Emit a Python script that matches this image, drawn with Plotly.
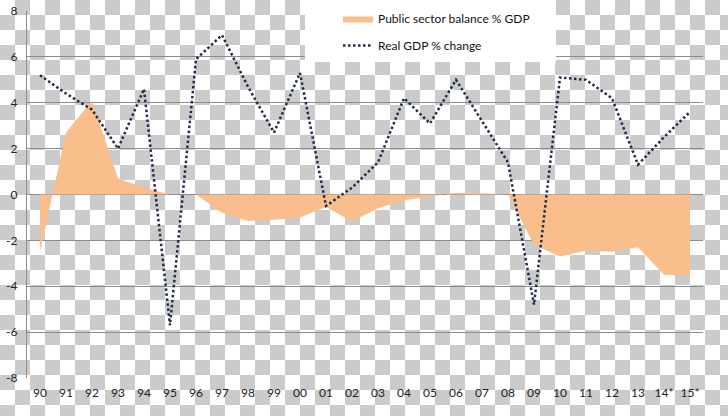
import base64
import plotly.graph_objects as go

years = ["90", "91", "92", "93", "94", "95", "96", "97", "98", "99", "00", "01", "02",
         "03", "04", "05", "06", "07", "08", "09", "10", "11", "12", "13", "14*", "15*"]
balance = [-2.5, 2.7, 4.1, 0.7, 0.3, 0.0, 0.0, -0.8, -1.15, -1.1, -1.0, -0.55, -1.18,
           -0.6, -0.25, -0.1, 0.08, 0.05, 0.0, -2.2, -2.7, -2.45, -2.5, -2.3, -3.5, -3.55]
gdp = [5.2, 4.4, 3.7, 2.0, 4.6, -5.7, 5.9, 6.95, 4.7, 2.7, 5.3, -0.5, 0.3,
       1.4, 4.2, 3.1, 5.0, 3.2, 1.4, -4.8, 5.1, 5.0, 4.2, 1.3, 2.5, 3.6]
yticks = [-8, -6, -4, -2, 0, 2, 4, 6, 8]

W, H = 728, 416
L, R, T, B = 27, 25, 11, 38
pw, ph = W - L - R, H - T - B

# checkerboard backdrop (transparent png look)
svg = ('<svg xmlns="http://www.w3.org/2000/svg" width="728" height="416">'
       '<defs><pattern id="p" width="30" height="30" patternUnits="userSpaceOnUse">'
       '<rect width="30" height="30" fill="#ffffff"/>'
       '<rect x="15" width="15" height="15" fill="#cbcbcb"/>'
       '<rect y="15" width="15" height="15" fill="#cbcbcb"/></pattern></defs>'
       '<rect width="728" height="416" fill="url(#p)"/></svg>')
src = "data:image/svg+xml;base64," + base64.b64encode(svg.encode()).decode()

fig = go.Figure()
fig.add_trace(go.Scatter(
    x=years, y=balance, mode="lines", fill="tozeroy",
    fillcolor="#F9BE8C", line=dict(width=0, color="#F9BE8C"),
    name="Public sector balance % GDP", legendgroup="a",
))
fig.add_trace(go.Scatter(
    x=years, y=gdp, mode="lines",
    line=dict(color="#1F2D4A", width=2.5, dash="2.5px,2.5px"),
    name="Real GDP % change", legendgroup="b",
))

fig.update_layout(
    width=W, height=H,
    margin=dict(l=L, r=R, t=T, b=B, autoexpand=False),
    paper_bgcolor="white",
    plot_bgcolor="rgba(0,0,0,0)",
    font=dict(family="Lato, Open Sans, sans-serif", size=12, color="#222222"),
    images=[dict(source=src, xref="paper", yref="paper",
                 x=-L / pw, y=1 + T / ph, sizex=W / pw, sizey=H / ph,
                 xanchor="left", yanchor="top", sizing="stretch", layer="below")],
    shapes=[dict(type="rect", xref="paper", yref="paper",
                 x0=(305 - L) / pw, x1=(556 - L) / pw,
                 y0=(H - B - 62) / ph, y1=1 + T / ph,
                 fillcolor="white", line=dict(width=0), layer="above")],
    legend=dict(x=(338 - L) / pw, y=(H - B - 4) / ph, xanchor="left", yanchor="top",
                bgcolor="rgba(0,0,0,0)", tracegroupgap=8, itemwidth=30,
                font=dict(size=12, color="#111111")),
    showlegend=True,
)
fig.update_xaxes(type="category", range=[-0.5, len(years) - 0.5], showgrid=False,
                 showline=False, zeroline=False, ticks="", ticklabelstandoff=6,
                 tickfont=dict(size=12, color="#222"))
fig.update_yaxes(range=[-8, 8], tickvals=yticks, ticktext=[str(v) for v in yticks],
                 showgrid=True, gridcolor="#8c8c8c", gridwidth=1.3,
                 zeroline=False, showline=True, linecolor="#8c8c8c", linewidth=1.3,
                 ticks="", ticklabelstandoff=6, tickfont=dict(size=12, color="#222"))

fig.write_html("out.html", config={"displayModeBar": False},
               post_script="document.body.style.margin='0';")
